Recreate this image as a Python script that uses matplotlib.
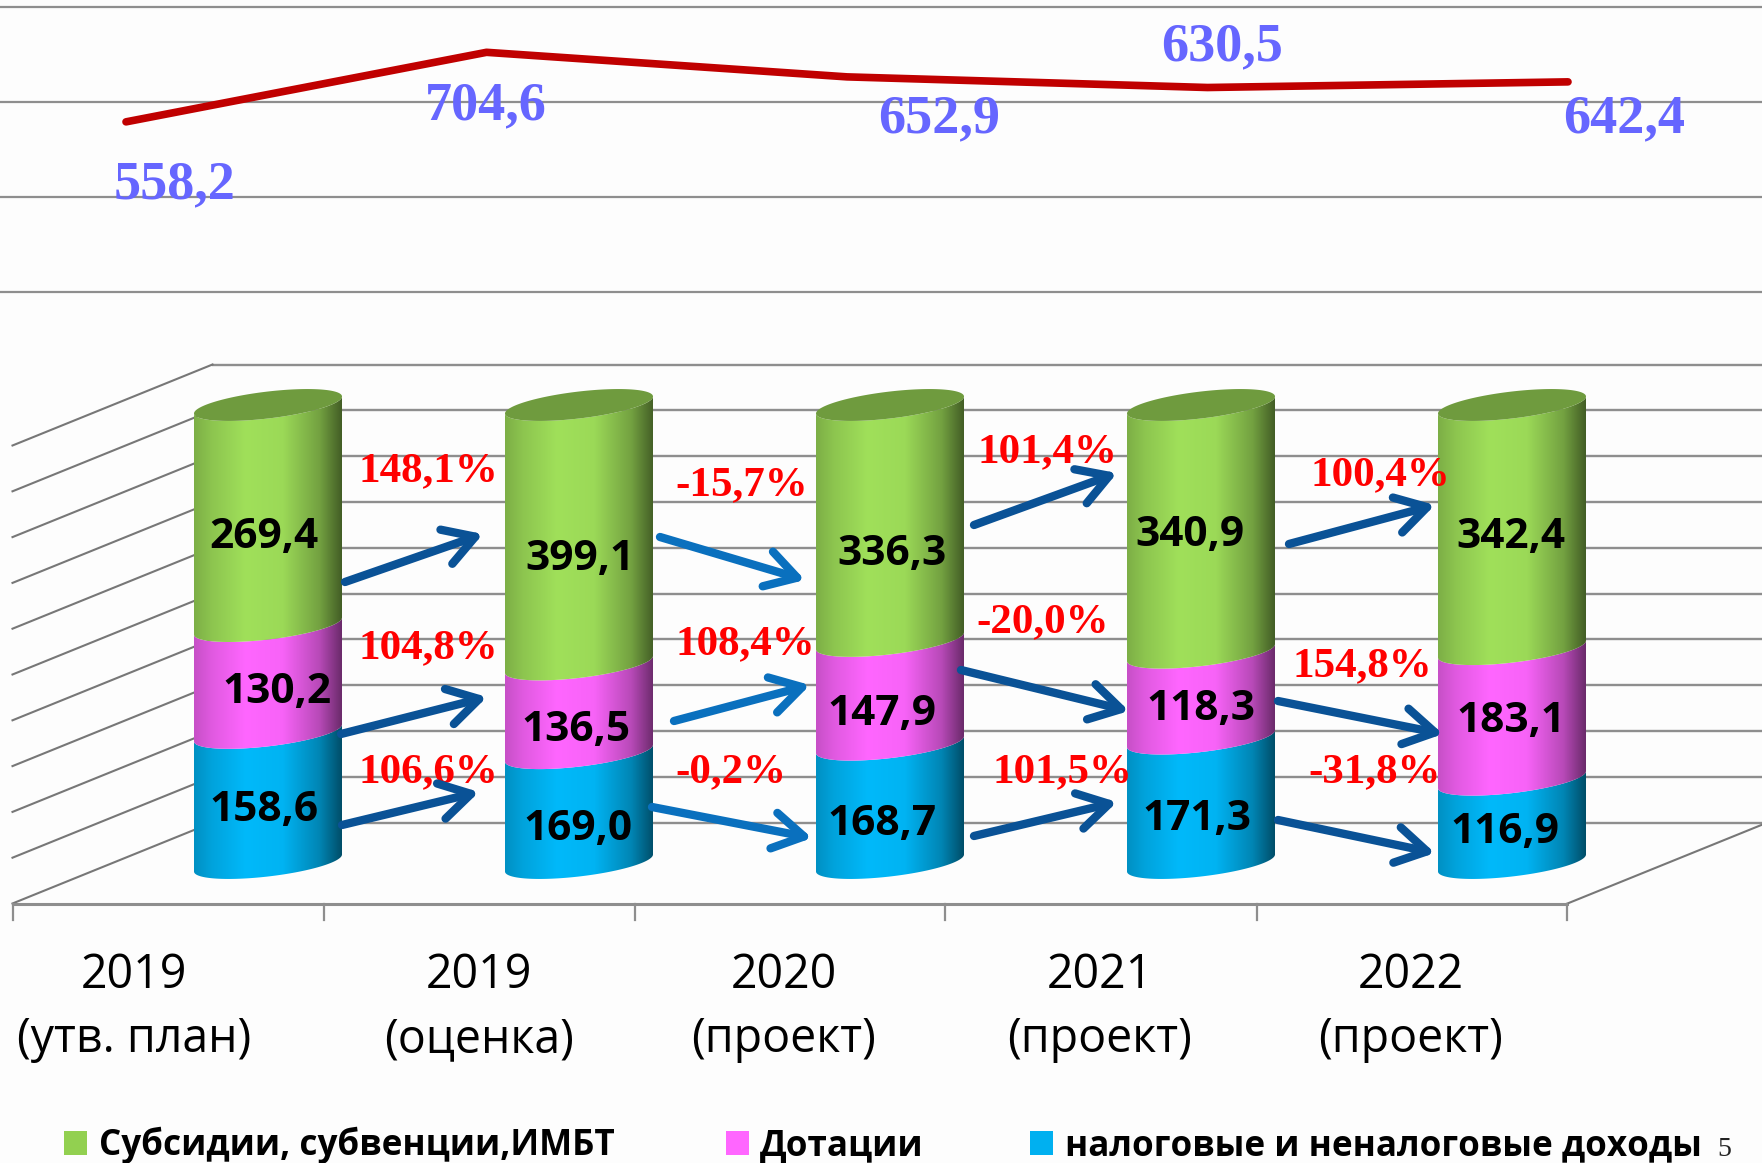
import matplotlib

matplotlib.use("Agg")
import matplotlib.pyplot as plt
import numpy as np
from matplotlib.patches import Polygon, Rectangle

W, H = 1762, 1163

CATEGORIES = ["2019\n(утв. план)", "2019\n(оценка)", "2020\n(проект)", "2021\n(проект)", "2022\n(проект)"]
TOTALS = [558.2, 704.6, 652.9, 630.5, 642.4]
TAX = [158.6, 169.0, 168.7, 171.3, 116.9]
GRANTS = [130.2, 136.5, 147.9, 118.3, 183.1]
SUBSIDIES = [269.4, 399.1, 336.3, 340.9, 342.4]
GROWTH_TOP = ["148,1%", "-15,7%", "101,4%", "100,4%"]
GROWTH_MID = ["104,8%", "108,4%", "-20,0%", "154,8%"]
GROWTH_LOW = ["106,6%", "-0,2%", "101,5%", "-31,8%"]
LEGEND = ["Субсидии, субвенции,ИМБТ", "Дотации", "налоговые и неналоговые доходы"]

GRID = "#8e8e8e"
BG = "#fdfdfd"
GREEN = "#a0e05a"
PINK = "#ff66ff"
BLUE = "#00b9fa"
CAP = "#6f9b3e"
DARK_ARROW = "#0a5296"
LIGHT_ARROW = "#0a70be"
SERIF = "Liberation Serif"
SANS = "Open Sans"


def fmt(v):
    return f"{v:.1f}".replace(".", ",")


def shade(color):
    """Horizontal cylinder shading for one base colour."""
    rgb = np.array(matplotlib.colors.to_rgb(color))
    f = np.interp(np.linspace(0, 1, 200), [0, 0.12, 0.35, 0.6, 0.85, 1], [0.78, 0.88, 1, 0.97, 0.72, 0.42])
    return (f[:, None] * rgb)[None, :, :]


fig = plt.figure(figsize=(W / 100, H / 100), dpi=100, facecolor=BG)

# percent-stacked axis: category i sits at 268 + 311 i px, 0..100 % is 863..405 px
PX_CAT, PX_PCT = 311.0, 4.58
ax_bar = fig.add_axes([0, 0, 1, 1], zorder=1)
ax_bar.axis("off")

# line axis: 200 units are 95 px, 800 at y=7 px
ax_line = fig.add_axes([0, 0, 1, 1], zorder=2)
ax_line.set_xlim(-126 / 360.5, (W - 126) / 360.5)
ax_line.set_ylim(800 - (H - 7) * 200 / 95, 800 + 7 * 200 / 95)
ax_line.axis("off")

# pixel overlay for annotations
ax_px = fig.add_axes([0, 0, 1, 1], zorder=3)
ax_px.set_xlim(0, W)
ax_px.set_ylim(H, 0)
ax_px.axis("off")

# upper chart
for v in [800, 600, 400, 200]:
    ax_line.axhline(v, color=GRID, lw=1.6)
ax_line.plot(range(5), TOTALS, color="#c00000", lw=5.5, solid_capstyle="round", solid_joinstyle="round")

total_pos = [(175, 198), (486, 119), (939, 132), (1222, 60), (1624, 132)]
for v, (x, y) in zip(TOTALS, total_pos):
    ax_px.text(x, y, fmt(v), color="#6666ff", fontsize=39, fontweight="bold", family=SERIF, ha="center", va="baseline")

# 3D frame
DX = 100 / PX_CAT
DY = 40.5 / PX_PCT
left = -0.5 - DX
right = left + 5
for pct in range(0, 101, 10):
    back = pct + DY
    ax_bar.plot([left + 2 * DX, 1e3], [back, back], color=GRID, lw=1.7)
    ax_bar.plot([left, left + 2 * DX], [pct - DY, back], color="#777777", lw=1.5)
ax_bar.plot([left, right], [-DY, -DY], color=GRID, lw=2.2)
ax_bar.plot([right, right + 2 * DX], [-DY, DY], color="#777777", lw=1.5)
for i in range(6):
    ax_bar.plot([left + i, left + i], [-DY, -DY - 16 / PX_PCT], color=GRID, lw=1.6)

# cylinders
HALF = 74 / PX_CAT
B = 13.5 / PX_PCT
TILT = 8.5 / PX_PCT


def ellipse(xc, yc, th):
    # tilted ellipse: left end lower, right end higher
    return xc - HALF * np.cos(th), yc - B * np.sin(th) - TILT * np.cos(th)


front = np.linspace(0, np.pi, 80)
full = np.linspace(0, 2 * np.pi, 160)
for i, total in enumerate(TOTALS):
    base = 0.0
    for vals, color in ((TAX, BLUE), (GRANTS, PINK), (SUBSIDIES, GREEN)):
        share = vals[i] / total * 100
        x0, y0 = ellipse(i, base, front)
        x1, y1 = ellipse(i, base + share, front)
        verts = np.column_stack([np.r_[x0, x1[::-1]], np.r_[y0, y1[::-1]]])
        poly = Polygon(verts, closed=True, transform=ax_bar.transData, fc="none", ec="none")
        ax_bar.add_patch(poly)
        im = ax_bar.imshow(shade(color), extent=[i - HALF, i + HALF, -20, 120], aspect="auto",
                           interpolation="bilinear", zorder=5)
        im.set_clip_path(poly)
        base += share
    xs, ys = ellipse(i, base, full)
    ax_bar.add_patch(Polygon(np.column_stack([xs, ys]), closed=True, fc=CAP, ec="none", zorder=6))
ax_bar.set_xlim(-268 / PX_CAT, (W - 268) / PX_CAT)
ax_bar.set_ylim((863 - H) / PX_PCT, 863 / PX_PCT)

# value labels in the cylinders
subsidy_pos = [(264, 548), (580, 570), (892, 565), (1190, 546), (1511, 548)]
grant_pos = [(277, 703), (576, 741), (882, 725), (1201, 720), (1511, 732)]
tax_pos = [(264, 821), (578, 840), (882, 835), (1197, 830), (1505, 843)]
for vals, pos in ((SUBSIDIES, subsidy_pos), (GRANTS, grant_pos), (TAX, tax_pos)):
    for v, (x, y) in zip(vals, pos):
        ax_px.text(x, y, fmt(v), color="black", fontsize=30.5, fontweight="bold", family=SANS, ha="center", va="baseline")

# growth labels and arrows
growth_pos = [
    [(428, 481), (742, 495), (1047, 462), (1380, 485)],
    [(428, 658), (745, 654), (1043, 632), (1362, 676)],
    [(428, 782), (731, 782), (1062, 782), (1375, 782)],
]
for row, pos in zip((GROWTH_TOP, GROWTH_MID, GROWTH_LOW), growth_pos):
    for s, (x, y) in zip(row, pos):
        ax_px.text(x, y, s, color="#ff0000", fontsize=31, fontweight="bold", family=SERIF, ha="center", va="baseline")

arrows = [
    ((345, 582), (483, 534), DARK_ARROW), ((660, 537), (805, 580), LIGHT_ARROW),
    ((974, 525), (1117, 473), DARK_ARROW), ((1289, 544), (1435, 505), DARK_ARROW),
    ((341, 734), (487, 697), DARK_ARROW), ((674, 721), (810, 685), LIGHT_ARROW),
    ((961, 670), (1129, 711), DARK_ARROW), ((1278, 701), (1443, 734), DARK_ARROW),
    ((342, 825), (479, 792), DARK_ARROW), ((652, 807), (812, 838), LIGHT_ARROW),
    ((974, 836), (1117, 802), DARK_ARROW), ((1278, 820), (1435, 853), DARK_ARROW),
]
for a, b, c in arrows:
    ax_px.annotate("", xy=b, xytext=a, arrowprops=dict(
        arrowstyle="->,head_length=1.1,head_width=0.65", color=c, lw=6, shrinkA=0, shrinkB=0,
        mutation_scale=20, capstyle="round", joinstyle="round"))

# category labels
cat_x = [134, 479, 784, 1100, 1411]
for s, x in zip(CATEGORIES, cat_x):
    top, bottom = s.split("\n")
    ax_px.text(x, 988, top, fontsize=33.5, family=SANS, ha="center", va="baseline", color="black")
    ax_px.text(x, 1052, bottom, fontsize=33.5, family=SANS, ha="center", va="baseline", color="black")

# legend
for s, color, bx, tx in zip(LEGEND, ("#92d050", PINK, "#00b0f0"), (64, 726, 1030), (99, 760, 1065)):
    ax_px.add_patch(Rectangle((bx, 1131), 23, 24, fc=color, ec="none"))
    ax_px.text(tx, 1155, s, fontsize=25.2, fontweight="bold", family=SANS, ha="left", va="baseline", color="black")
ax_px.text(1724, 1156, "5", fontsize=20, family=SERIF, ha="center", va="baseline", color="#222222")

fig.savefig("out.png", dpi=100, facecolor=BG)
